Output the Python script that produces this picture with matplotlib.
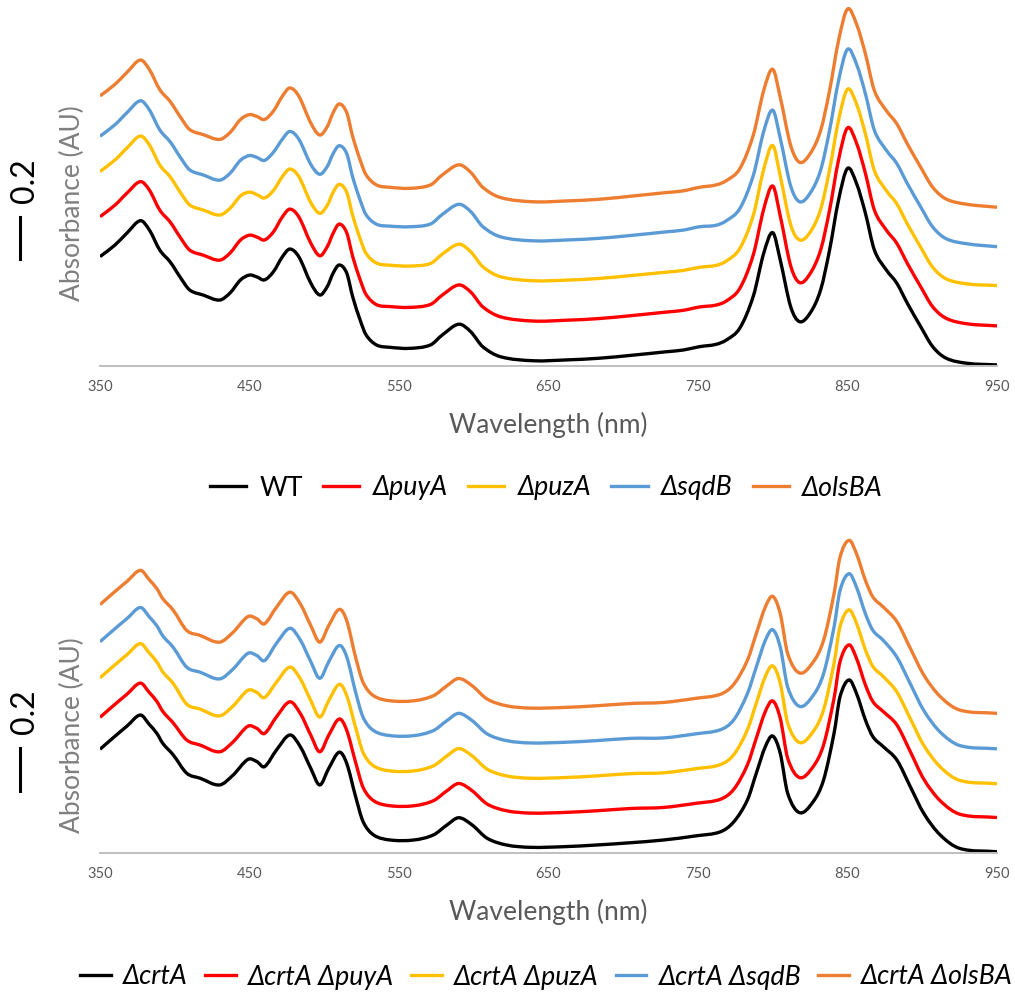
import matplotlib
matplotlib.use("Agg")
import matplotlib.pyplot as plt
from matplotlib.lines import Line2D
from matplotlib.path import Path
from matplotlib.patches import PathPatch
from matplotlib.transforms import blended_transform_factory

plt.rcParams['font.family'] = ['Lato', 'DejaVu Sans']

# wavelength grid (nm)
wl_top = [350, 360, 368, 377, 383, 390, 397, 404, 410, 419,
          430, 437, 444, 450, 455, 460, 466, 472, 477, 483,
          491, 497, 502, 506, 510, 515, 519, 524, 528, 535,
          544, 557, 571, 579, 590, 598, 606, 618, 640, 662,
          684, 707, 729, 740, 751, 762, 769, 778, 787, 794,
          800, 805, 812, 818, 825, 832, 838, 844, 850, 856,
          862, 868, 876, 883, 890, 899, 907, 916, 930, 950]

wt = [0.521, 0.576, 0.633, 0.692, 0.648, 0.552, 0.495, 0.419, 0.362, 0.338,
      0.314, 0.348, 0.410, 0.433, 0.424, 0.410, 0.449, 0.520, 0.557, 0.520,
      0.395, 0.338, 0.378, 0.443, 0.481, 0.443, 0.330, 0.219, 0.148, 0.100,
      0.089, 0.084, 0.100, 0.148, 0.199, 0.163, 0.092, 0.044, 0.025, 0.029,
      0.037, 0.052, 0.068, 0.076, 0.092, 0.103, 0.124, 0.181, 0.333, 0.538,
      0.635, 0.505, 0.282, 0.211, 0.252, 0.362, 0.552, 0.790, 0.941, 0.870,
      0.727, 0.552, 0.457, 0.394, 0.299, 0.187, 0.092, 0.037, 0.013, 0.005]

puyA = [0.711, 0.766, 0.823, 0.878, 0.838, 0.742, 0.685, 0.609, 0.552, 0.528,
        0.504, 0.538, 0.600, 0.623, 0.614, 0.600, 0.639, 0.710, 0.747, 0.710,
        0.585, 0.525, 0.568, 0.633, 0.676, 0.635, 0.522, 0.411, 0.340, 0.292,
        0.283, 0.279, 0.293, 0.338, 0.386, 0.352, 0.282, 0.234, 0.214, 0.218,
        0.226, 0.241, 0.257, 0.265, 0.281, 0.290, 0.310, 0.370, 0.530, 0.748,
        0.857, 0.715, 0.477, 0.397, 0.440, 0.552, 0.742, 0.981, 1.134, 1.062,
        0.917, 0.742, 0.647, 0.584, 0.489, 0.377, 0.282, 0.227, 0.201, 0.191]

puzA = [0.926, 0.981, 1.038, 1.095, 1.053, 0.957, 0.900, 0.824, 0.767, 0.743,
        0.719, 0.751, 0.810, 0.828, 0.816, 0.800, 0.836, 0.902, 0.938, 0.902,
        0.778, 0.727, 0.765, 0.828, 0.865, 0.828, 0.717, 0.606, 0.536, 0.490,
        0.480, 0.476, 0.488, 0.533, 0.580, 0.544, 0.473, 0.425, 0.406, 0.409,
        0.417, 0.432, 0.447, 0.455, 0.470, 0.479, 0.500, 0.560, 0.718, 0.938,
        1.050, 0.905, 0.672, 0.600, 0.637, 0.745, 0.934, 1.170, 1.318, 1.248,
        1.105, 0.930, 0.835, 0.772, 0.677, 0.565, 0.470, 0.415, 0.391, 0.383]

sqdB = [1.094, 1.149, 1.206, 1.263, 1.220, 1.124, 1.067, 0.991, 0.934, 0.910,
        0.885, 0.918, 0.980, 1.002, 0.993, 0.979, 1.018, 1.080, 1.117, 1.080,
        0.960, 0.913, 0.950, 1.012, 1.049, 1.012, 0.900, 0.790, 0.720, 0.675,
        0.666, 0.663, 0.676, 0.722, 0.770, 0.735, 0.664, 0.615, 0.596, 0.600,
        0.608, 0.623, 0.639, 0.647, 0.663, 0.670, 0.692, 0.750, 0.908, 1.118,
        1.218, 1.085, 0.857, 0.782, 0.823, 0.932, 1.122, 1.358, 1.508, 1.438,
        1.296, 1.122, 1.027, 0.964, 0.869, 0.757, 0.662, 0.606, 0.582, 0.568]

olsBA = [1.286, 1.341, 1.398, 1.457, 1.412, 1.316, 1.259, 1.183, 1.126, 1.102,
         1.079, 1.112, 1.174, 1.197, 1.188, 1.174, 1.214, 1.285, 1.324, 1.285,
         1.157, 1.100, 1.140, 1.207, 1.248, 1.207, 1.093, 0.981, 0.910, 0.862,
         0.851, 0.846, 0.862, 0.910, 0.958, 0.922, 0.851, 0.802, 0.782, 0.786,
         0.794, 0.810, 0.826, 0.834, 0.851, 0.862, 0.883, 0.940, 1.100, 1.313,
         1.413, 1.280, 1.050, 0.970, 1.011, 1.121, 1.311, 1.549, 1.700, 1.629,
         1.486, 1.311, 1.216, 1.153, 1.058, 0.946, 0.851, 0.795, 0.770, 0.756]

# bottom panel (crtA background)
wl_bot = [350, 360, 368, 377, 383, 388, 392, 399, 408, 417,
          430, 439, 449, 455, 460, 468, 477, 484, 491, 497,
          503, 510, 515, 521, 526, 533, 544, 560, 573, 582,
          590, 599, 609, 622, 638, 660, 682, 705, 727, 749,
          765, 774, 783, 789, 795, 800, 805, 810, 818, 827,
          834, 841, 845, 851, 856, 862, 867, 874, 883, 892,
          901, 912, 925, 950]

crtA = [0.494, 0.556, 0.604, 0.657, 0.612, 0.570, 0.522, 0.467, 0.380, 0.356,
        0.324, 0.371, 0.446, 0.435, 0.411, 0.490, 0.562, 0.506, 0.403, 0.324,
        0.403, 0.480, 0.427, 0.268, 0.149, 0.086, 0.062, 0.062, 0.086, 0.133,
        0.168, 0.133, 0.070, 0.038, 0.027, 0.030, 0.038, 0.049, 0.062, 0.082,
        0.101, 0.149, 0.252, 0.380, 0.506, 0.557, 0.475, 0.284, 0.192, 0.244,
        0.348, 0.570, 0.744, 0.824, 0.760, 0.633, 0.554, 0.506, 0.443, 0.316,
        0.189, 0.086, 0.022, 0.006]

crtA_puyA = [0.646, 0.708, 0.756, 0.809, 0.764, 0.722, 0.674, 0.619, 0.538, 0.514,
             0.482, 0.529, 0.604, 0.593, 0.569, 0.648, 0.720, 0.664, 0.561, 0.482,
             0.561, 0.638, 0.585, 0.431, 0.312, 0.249, 0.225, 0.225, 0.249, 0.296,
             0.331, 0.296, 0.233, 0.201, 0.190, 0.193, 0.201, 0.212, 0.217, 0.237,
             0.256, 0.304, 0.419, 0.547, 0.673, 0.724, 0.642, 0.451, 0.359, 0.411,
             0.515, 0.737, 0.911, 0.991, 0.927, 0.800, 0.721, 0.673, 0.610, 0.483,
             0.352, 0.249, 0.185, 0.169]

crtA_puzA = [0.834, 0.896, 0.944, 0.997, 0.952, 0.910, 0.862, 0.807, 0.709, 0.685,
             0.653, 0.700, 0.775, 0.764, 0.740, 0.813, 0.885, 0.829, 0.726, 0.647,
             0.726, 0.803, 0.750, 0.597, 0.478, 0.415, 0.391, 0.391, 0.415, 0.462,
             0.497, 0.462, 0.399, 0.367, 0.356, 0.359, 0.367, 0.378, 0.382, 0.402,
             0.421, 0.469, 0.586, 0.714, 0.840, 0.891, 0.809, 0.618, 0.526, 0.578,
             0.682, 0.904, 1.078, 1.158, 1.094, 0.967, 0.888, 0.840, 0.767, 0.640,
             0.513, 0.410, 0.346, 0.330]

crtA_sqdB = [1.006, 1.068, 1.116, 1.169, 1.124, 1.082, 1.034, 0.979, 0.885, 0.861,
             0.829, 0.876, 0.951, 0.940, 0.916, 0.998, 1.070, 1.014, 0.911, 0.832,
             0.911, 0.988, 0.935, 0.765, 0.646, 0.583, 0.559, 0.559, 0.583, 0.630,
             0.665, 0.630, 0.567, 0.535, 0.524, 0.527, 0.535, 0.546, 0.548, 0.568,
             0.587, 0.635, 0.758, 0.886, 1.012, 1.063, 0.981, 0.790, 0.698, 0.750,
             0.854, 1.076, 1.250, 1.330, 1.266, 1.139, 1.060, 1.012, 0.933, 0.806,
             0.679, 0.576, 0.512, 0.496]

crtA_olsBA = [1.183, 1.245, 1.293, 1.346, 1.301, 1.259, 1.211, 1.156, 1.060, 1.036,
              1.004, 1.051, 1.126, 1.115, 1.091, 1.170, 1.242, 1.186, 1.083, 1.004,
              1.083, 1.160, 1.107, 0.931, 0.812, 0.749, 0.725, 0.725, 0.749, 0.796,
              0.831, 0.796, 0.733, 0.701, 0.690, 0.693, 0.701, 0.712, 0.717, 0.737,
              0.756, 0.804, 0.917, 1.045, 1.171, 1.222, 1.140, 0.949, 0.857, 0.909,
              1.013, 1.235, 1.409, 1.489, 1.425, 1.298, 1.219, 1.171, 1.102, 0.975,
              0.848, 0.745, 0.681, 0.665]

top_series = [wt, puyA, puzA, sqdB, olsBA]
top_labels = ['WT', 'ΔpuyA', 'ΔpuzA', 'ΔsqdB', 'ΔolsBA']
bot_series = [crtA, crtA_puyA, crtA_puzA, crtA_sqdB, crtA_olsBA]
bot_labels = ['ΔcrtA', 'ΔcrtA ΔpuyA', 'ΔcrtA ΔpuzA', 'ΔcrtA ΔsqdB', 'ΔcrtA ΔolsBA']
colors = ['#000000', '#ff0000', '#ffc000', '#5b9bd5', '#ed7d31']
xticks = [350, 450, 550, 650, 750, 850, 950]

W, H = 1015, 994
fig = plt.figure(figsize=(W / 100, H / 100), dpi=100)

# axes placed in pixel terms
ax_top = fig.add_axes([100 / W, 1 - 366 / H, 897 / W, 365.4 / H])
ax_bot = fig.add_axes([100 / W, 1 - 853 / H, 897 / W, 323.4 / H])


def smooth_path(x, y):
    # smoothed line through the points (cubic Bezier segments, like a spreadsheet "smoothed line")
    n = len(x)
    slopes = []
    for i in range(n):
        a = max(i - 1, 0)
        b = min(i + 1, n - 1)
        slopes.append((y[b] - y[a]) / (x[b] - x[a]))
    verts = [(x[0], y[0])]
    codes = [Path.MOVETO]
    for i in range(n - 1):
        h = x[i + 1] - x[i]
        verts.append((x[i] + h / 3, y[i] + slopes[i] * h / 3))
        verts.append((x[i + 1] - h / 3, y[i + 1] - slopes[i + 1] * h / 3))
        verts.append((x[i + 1], y[i + 1]))
        codes += [Path.CURVE4] * 3
    return Path(verts, codes)


def style_panel(ax, wl, series, ytop, bar, bar_txt, ylab_y, xlab_y):
    handles = []
    for s, c in zip(series, colors):
        ax.add_patch(PathPatch(smooth_path(wl, s), fill=False, edgecolor=c, lw=2.4,
                               joinstyle='round', capstyle='butt'))
        handles.append(Line2D([], [], color=c, lw=2.4))
    ax.set_xlim(350, 950)
    ax.set_ylim(0, ytop)
    for side in ['top', 'left', 'right']:
        ax.spines[side].set_visible(False)
    ax.spines['bottom'].set_color('#bfbfbf')
    ax.spines['bottom'].set_linewidth(1.4)
    ax.set_yticks([])
    ax.set_xticks(xticks)
    ax.tick_params(axis='x', length=0, pad=10, labelsize=10.5, labelcolor='#595959')
    ax.set_xlabel('Wavelength (nm)', fontsize=19, color='#595959')
    ax.xaxis.label.set_va('center')
    ax.xaxis.set_label_coords(0.5, xlab_y)
    ax.set_ylabel('Absorbance (AU)', fontsize=19, color='#7f7f7f')
    ax.yaxis.label.set_va('center')
    ax.yaxis.set_label_coords(-0.0312, ylab_y)
    # 0.2 AU scale bar
    tr = blended_transform_factory(ax.transAxes, ax.transData)
    ax.plot([-0.0892, -0.0892], bar, color='black', lw=2.2, transform=tr, clip_on=False)
    ax.text(-0.0836, bar_txt, '0.2', rotation=90, ha='center', va='center',
            fontsize=23, color='black', transform=tr)
    return handles


h_top = style_panel(ax_top, wl_top, top_series, 1.74, [0.510, 0.710], 0.881, 0.446, -0.1615)
h_bot = style_panel(ax_bot, wl_bot, bot_series, 1.54, [0.297, 0.500], 0.671, 0.365, -0.1824)

leg_kw = dict(loc='center left', ncol=5, frameon=False, fontsize=19.3,
              borderpad=0, borderaxespad=0)

leg1 = fig.legend(h_top, top_labels, bbox_to_anchor=(210 / W, 1 - 488 / H),
                  handlelength=1.35, handletextpad=0.5, columnspacing=0.75, **leg_kw)
for t in leg1.get_texts()[1:]:
    t.set_fontstyle('italic')

# the bottom row is long; keep it a little tighter so it stays on the canvas
leg2 = fig.legend(h_bot, bot_labels, bbox_to_anchor=(80 / W, 1 - 977 / H),
                  handlelength=1.15, handletextpad=0.45, columnspacing=0.64, **leg_kw)
for t in leg2.get_texts():
    t.set_fontstyle('italic')

fig.savefig('out.png', dpi=100)
